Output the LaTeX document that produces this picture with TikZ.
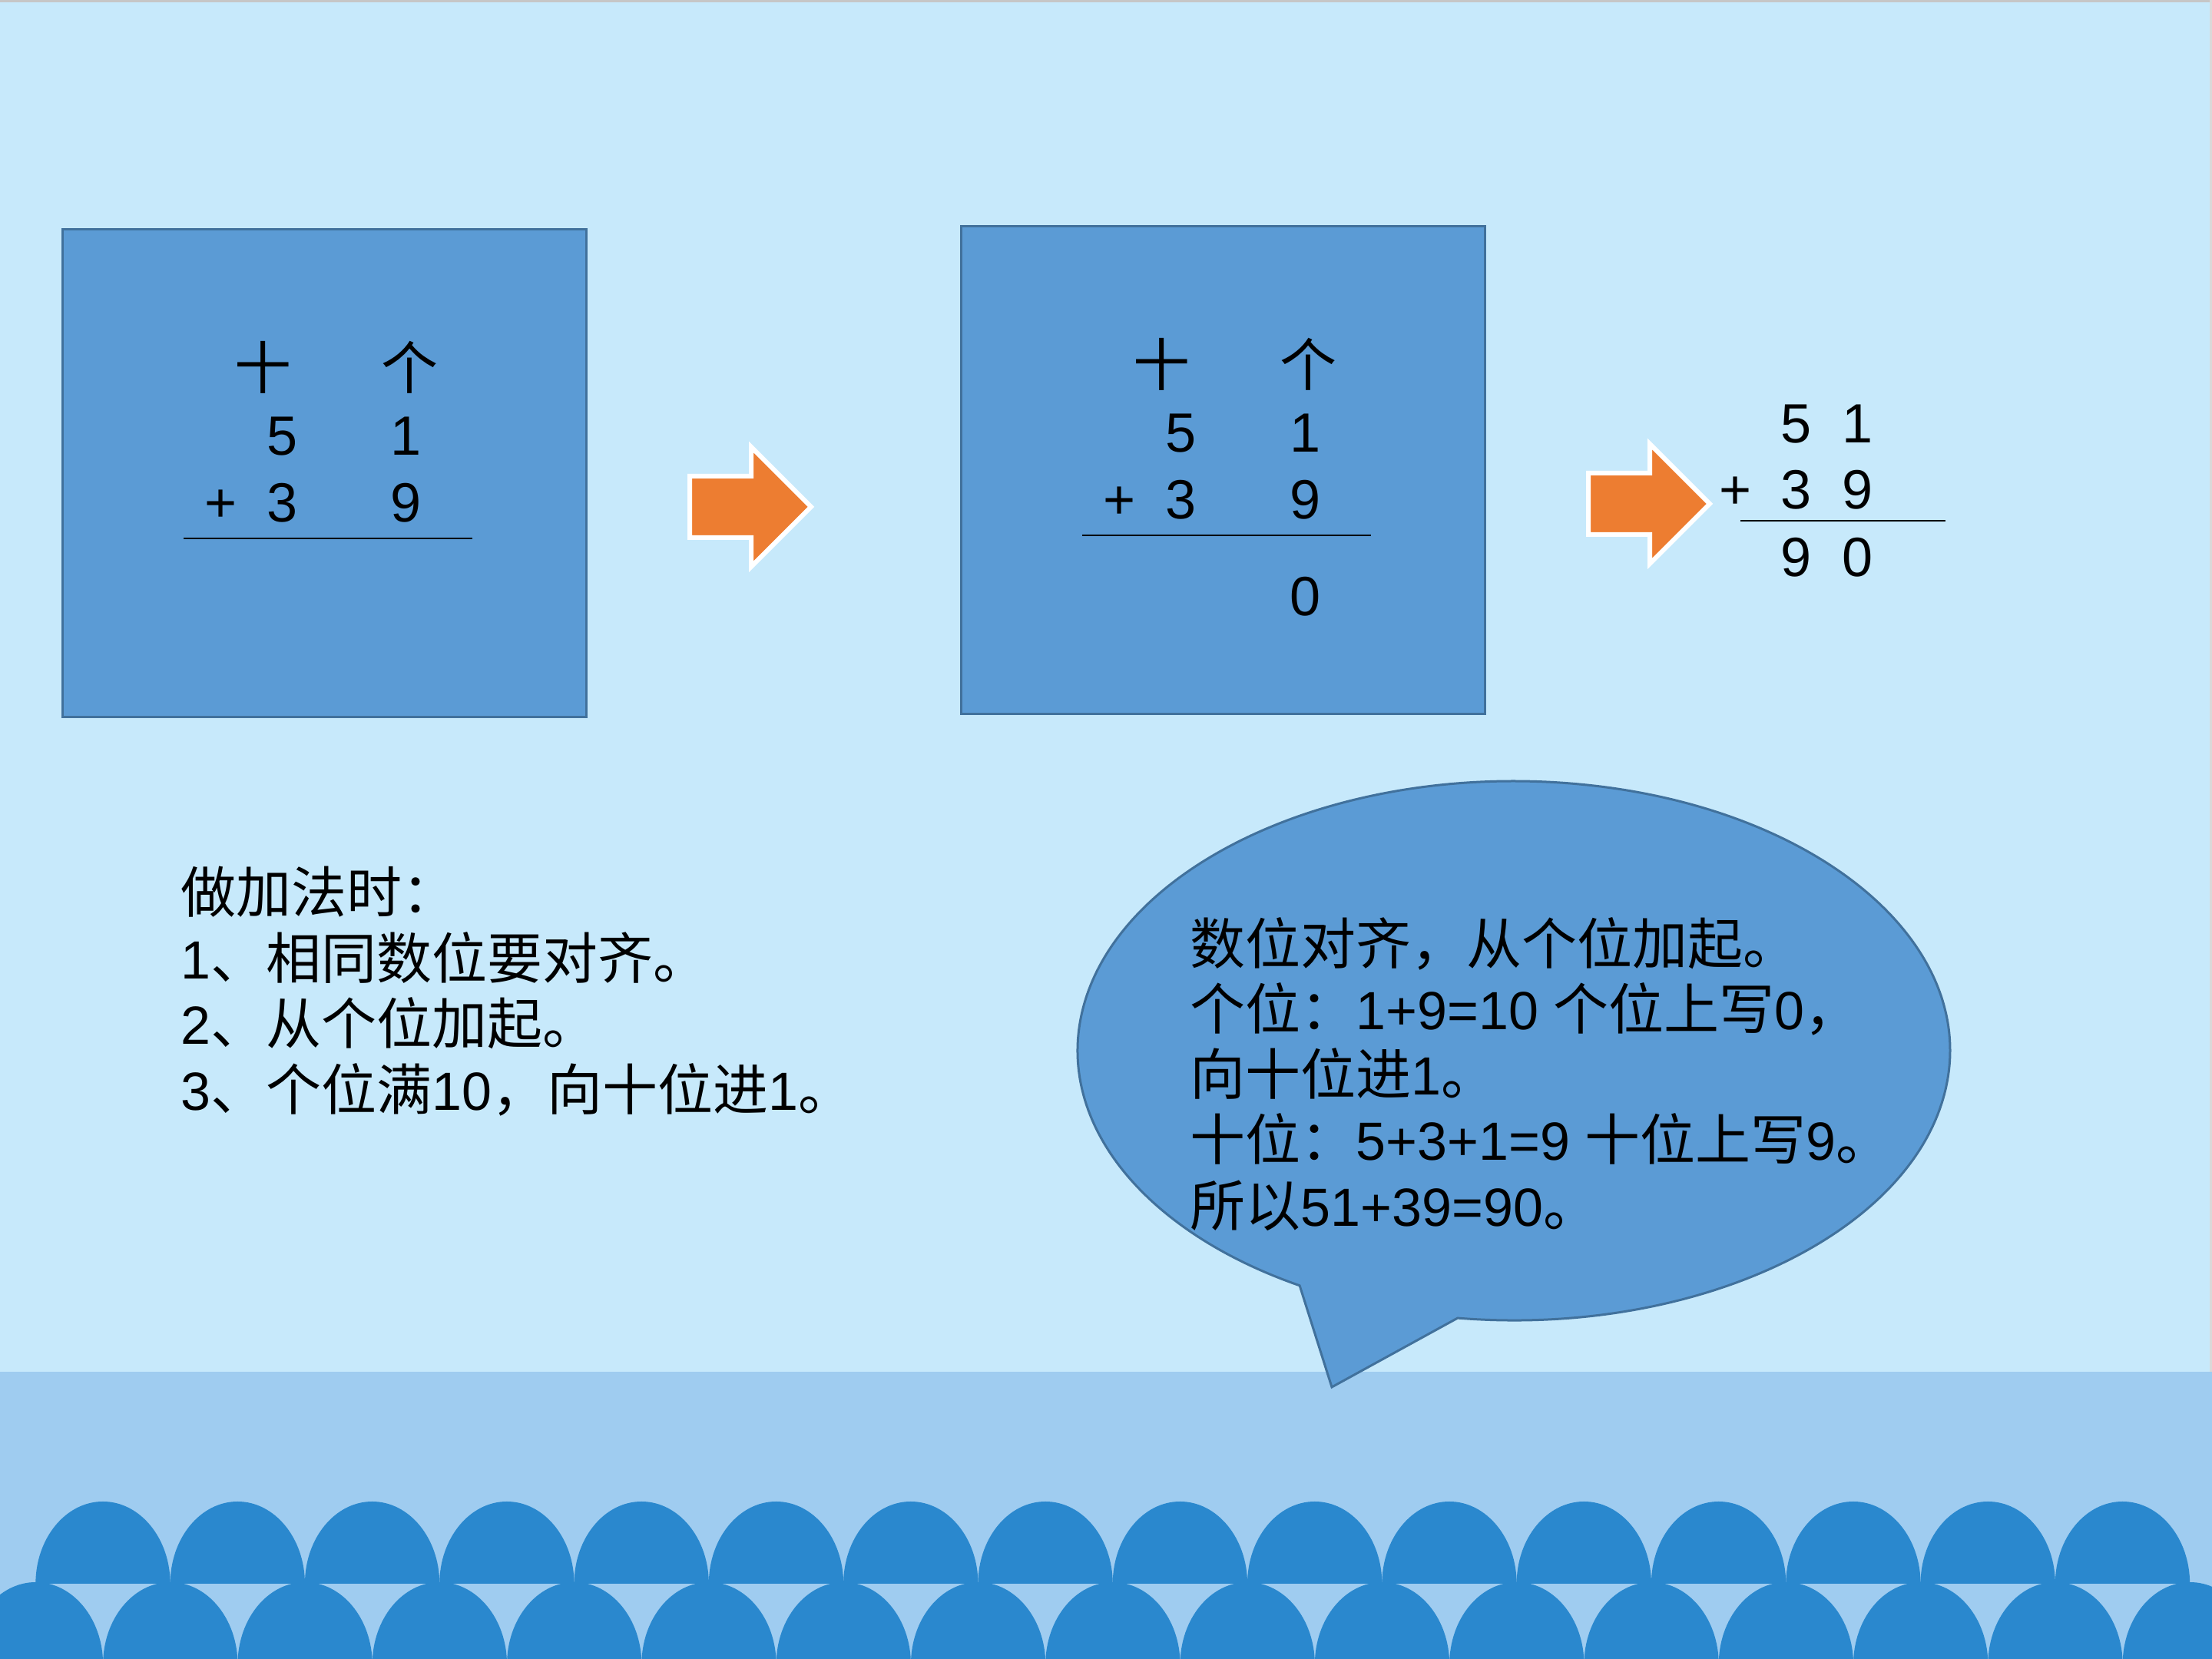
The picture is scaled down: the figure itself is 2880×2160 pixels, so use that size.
\documentclass[tikz,border=0pt]{standalone}
\usepackage{fontspec}
\setmainfont{Liberation Sans}
\newfontfamily\cjk[Scale=1.0286]{Noto Sans CJK SC}
\definecolor{bgtop}{RGB}{199,233,251}
\definecolor{bandcol}{RGB}{159,204,240}
\definecolor{domecol}{RGB}{42,136,206}
\definecolor{boxfill}{RGB}{91,155,213}
\definecolor{boxline}{RGB}{65,113,156}
\definecolor{arroworange}{RGB}{237,125,49}
\tikzset{
 panel/.style={fill=boxfill, draw=boxline, line width=0.75pt},
 bigarrow/.style={fill=arroworange, draw=white, line width=1.5pt},
 domefill/.style={fill=domecol},
 dig/.style={inner sep=0pt, anchor=base, font=\fontsize{18}{21}\selectfont},
 txt/.style={inner sep=0pt, anchor=base west, font=\fontsize{17.5}{21}\selectfont},
 sumline/.style={draw=black, line width=0.5pt},
}
\begin{document}
\begin{tikzpicture}[x=0.25pt, y=0.25pt]
\useasboundingbox (0,0) rectangle (2880,2160);
\clip (0,0) rectangle (2880,2160);
% background
\fill[bgtop] (0,0) rectangle (2880,2160);
\fill[gray!45] (0,2157) rectangle (2880,2160);
\fill[gray!30] (2877,0) rectangle (2880,2160);
\fill[bandcol] (0,0) rectangle (2880,374);
% waves
\foreach \i in {0,...,15}
  \fill[domefill] ({134+175.3*\i-87.65},98) arc[start angle=180, end angle=0, x radius=87.65, y radius=107] -- cycle;
\foreach \i in {0,...,16}
  \fill[domefill] ({46.5+175.3*\i-87.65},-7) arc[start angle=180, end angle=0, x radius=87.65, y radius=107] -- cycle;

% box 1
\draw[panel] (81,1226) rectangle (763,1861);
\node[dig] (b1ten) at (343,1653) {\cjk 十};
\node[dig] (b1one) at (534,1653) {\cjk 个};
\node[dig] (b1a) at (368,1567) {5};
\node[dig] (b1b) at (529,1567) {1};
\node[dig] (b1plus) at (288,1480) {+};
\node[dig] (b1c) at (368,1480) {3};
\node[dig] (b1d) at (529,1480) {9};
\coordinate (b1l) at (239,1459);
\coordinate (b1r) at (615,1459);
\draw[sumline] (b1l) -- (b1r);

% arrow 1
\draw[bigarrow] (898,1460) -- (898,1540) -- (978,1540) -- (978,1578) -- (1056,1500) -- (978,1422) -- (978,1460) -- cycle;

% box 2
\draw[panel] (1251,1230) rectangle (1933,1865);
\node[dig] (b2ten) at (1513,1657) {\cjk 十};
\node[dig] (b2one) at (1704,1657) {\cjk 个};
\node[dig] (b2a) at (1538,1571) {5};
\node[dig] (b2b) at (1699,1571) {1};
\node[dig] (b2plus) at (1458,1484) {+};
\node[dig] (b2c) at (1538,1484) {3};
\node[dig] (b2d) at (1699,1484) {9};
\coordinate (b2l) at (1409,1463);
\coordinate (b2r) at (1785,1463);
\draw[sumline] (b2l) -- (b2r);
\node[dig] (b2e) at (1699,1358) {0};

% arrow 2
\draw[bigarrow] (2068,1464) -- (2068,1544) -- (2148,1544) -- (2148,1582) -- (2226,1504) -- (2148,1426) -- (2148,1464) -- cycle;

% right computation
\node[dig] (ra) at (2338,1583) {5};
\node[dig] (rb) at (2418,1583) {1};
\node[dig] (rplus) at (2259,1497) {+};
\node[dig] (rc) at (2338,1497) {3};
\node[dig] (rd) at (2418,1497) {9};
\coordinate (rl) at (2266,1482);
\coordinate (rr) at (2533,1482);
\draw[sumline] (rl) -- (rr);
\node[dig] (re) at (2338,1409) {9};
\node[dig] (rf) at (2418,1409) {0};

% left text
\node[txt] (t1) at (235,971) {\cjk 做加法时：};
\node[txt] (t2) at (235,885) {1{\cjk 、相同数位要对齐。}};
\node[txt] (t3) at (235,800) {2{\cjk 、从个位加起。}};
\node[txt] (t4) at (235,714) {3{\cjk 、个位满}10{\cjk ，向十位进}1{\cjk 。}};

% speech bubble
\draw[panel] (1897.8,443.9) arc[start angle=-97.4, end angle=240.6, x radius=568, y radius=351] -- (1734,354) -- cycle;
\node[txt] (s1) at (1549,904) {\cjk 数位对齐，从个位加起。};
\node[txt] (s2) at (1549,819) {{\cjk 个位：}1+9=10 {\cjk 个位上写}0{\cjk ，}};
\node[txt] (s3) at (1549,734) {{\cjk 向十位进}1{\cjk 。}};
\node[txt] (s4) at (1549,649) {{\cjk 十位：}5+3+1=9 {\cjk 十位上写}9{\cjk 。}};
\node[txt] (s5) at (1549,563) {{\cjk 所以}51+39=90{\cjk 。}};
\end{tikzpicture}
\end{document}
